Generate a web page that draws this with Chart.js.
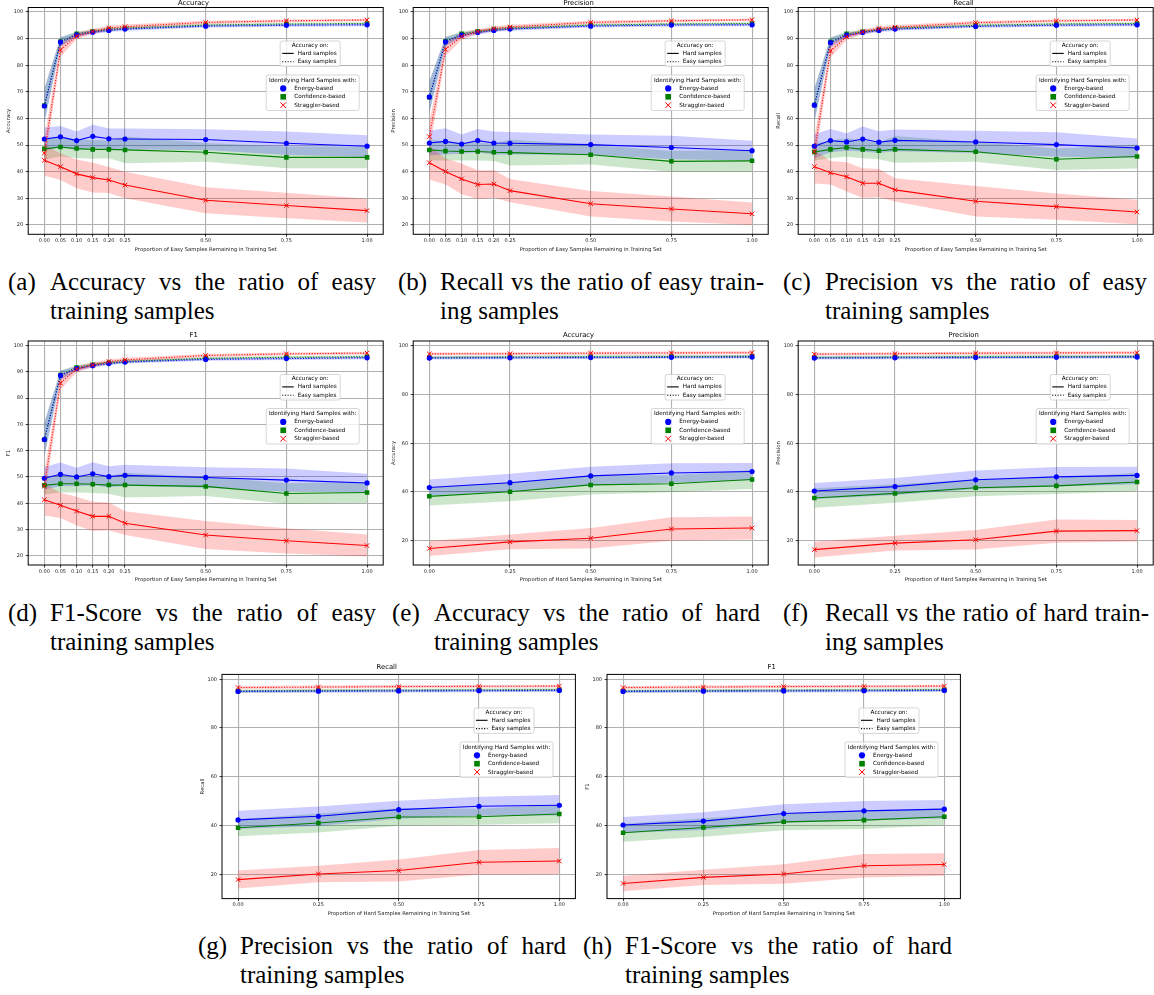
<!DOCTYPE html>
<html>
<head>
<meta charset="utf-8">
<title>Hard / easy sample ratio</title>
<script src="https://cdn.jsdelivr.net/npm/chart.js@4.4.1/dist/chart.umd.min.js"></script>
<style>
  html, body { margin: 0; padding: 0; background: #fff; }
  #fig { position: relative; width: 1154px; height: 995px; overflow: hidden; }
  #fig canvas { position: absolute; }
  .cap { position: absolute; display: flex; font-family: "Liberation Serif", "Times New Roman", serif;
         font-size: 25px; line-height: 29px; color: #000; }
  .cap .lab { flex: none; width: 42px; }
  .cap .body { flex: 1; min-width: 0; }
  .cap .l1 { text-align: justify; text-align-last: justify; }
</style>
</head>
<body>
<div id="fig"></div>
<script>
// share of samples kept, for the two sweeps
const easyX = [0, 0.05, 0.10, 0.15, 0.20, 0.25, 0.50, 0.75, 1.00];
const hardX = [0, 0.25, 0.50, 0.75, 1.00];
const easyYTicks = [20, 30, 40, 50, 60, 70, 80, 90, 100];
const hardYTicks = [20, 40, 60, 80, 100];

// (a) Accuracy, easy sweep
const A_hard_energy = [52.3, 53.1, 51.7, 53.3, 52.4, 52.3, 52.1, 50.7, 49.6];
const A_hard_energy_sd = [4.3, 4.1, 3.4, 4.4, 3.8, 3.9, 3.9, 4.4, 4.1];
const A_hard_conf = [48.6, 49.3, 48.7, 48.4, 48.4, 48.2, 47.3, 45.4, 45.4];
const A_hard_conf_sd = [4.0, 3.6, 3.5, 3.5, 3.3, 5.0, 3.5, 4.1, 4.1];
const A_hard_strag = [44.3, 41.9, 39.2, 37.8, 36.9, 35.0, 29.3, 27.3, 25.4];
const A_hard_strag_sd = [5.8, 5.0, 5.4, 5.6, 4.9, 5.0, 4.9, 4.8, 4.5];
const A_easy_energy = [64.7, 88.7, 91.4, 92.4, 93.1, 93.6, 94.7, 95.0, 95.2];
const A_easy_energy_sd = [6.5, 1.8, 0.9, 0.7, 0.6, 0.6, 0.5, 0.5, 0.5];
const A_easy_conf = [64.9, 88.9, 91.8, 92.7, 93.4, 93.9, 95.1, 95.5, 95.7];
const A_easy_conf_sd = [6.3, 1.7, 0.9, 0.7, 0.6, 0.6, 0.5, 0.5, 0.5];
const A_easy_strag = [47.0, 85.7, 91.0, 92.7, 94.0, 94.5, 96.1, 96.7, 97.0];
const A_easy_strag_sd = [5.5, 2.5, 1.2, 0.9, 0.8, 0.8, 0.6, 0.5, 0.5];

// (b) Precision, easy sweep
const B_hard_energy = [50.8, 51.4, 50.4, 51.7, 50.8, 50.7, 50.2, 49.1, 47.9];
const B_hard_energy_sd = [4.6, 4.9, 3.6, 4.4, 4.3, 4.2, 3.8, 4.4, 3.7];
const B_hard_conf = [48.2, 47.8, 47.6, 47.6, 47.3, 47.2, 46.4, 43.9, 44.1];
const B_hard_conf_sd = [4.0, 3.6, 3.4, 3.4, 3.3, 4.9, 3.7, 3.9, 4.1];
const B_hard_strag = [43.4, 40.1, 37.3, 35.2, 35.4, 32.9, 28.0, 26.0, 24.2];
const B_hard_strag_sd = [6.4, 4.9, 5.8, 5.4, 5.2, 4.4, 4.8, 4.7, 4.2];
const B_easy_energy = [68.1, 88.8, 91.3, 92.3, 93.1, 93.6, 94.7, 95.1, 95.2];
const B_easy_energy_sd = [6.0, 1.8, 0.9, 0.7, 0.6, 0.6, 0.5, 0.5, 0.5];
const B_easy_conf = [68.0, 89.0, 91.8, 92.7, 93.4, 93.9, 95.1, 95.5, 95.7];
const B_easy_conf_sd = [5.8, 1.7, 0.9, 0.7, 0.6, 0.6, 0.5, 0.5, 0.5];
const B_easy_strag = [53.2, 86.0, 90.8, 92.7, 93.8, 94.4, 96.1, 96.7, 97.1];
const B_easy_strag_sd = [5.5, 2.5, 1.2, 0.9, 0.8, 0.8, 0.6, 0.5, 0.5];

// (c) Recall, easy sweep
const C_hard_energy = [49.6, 51.7, 51.2, 52.3, 51.1, 51.8, 51.2, 50.2, 48.9];
const C_hard_energy_sd = [4.5, 4.4, 3.3, 4.7, 4.1, 4.1, 4.2, 4.6, 3.6];
const C_hard_conf = [47.4, 48.4, 49.1, 48.4, 47.9, 48.4, 47.5, 44.7, 45.7];
const C_hard_conf_sd = [3.3, 3.2, 3.5, 3.3, 3.2, 5.0, 3.7, 4.0, 4.5];
const C_hard_strag = [41.9, 39.6, 38.1, 35.7, 35.7, 33.2, 28.9, 26.9, 24.9];
const C_hard_strag_sd = [6.3, 4.4, 5.5, 5.6, 5.3, 4.4, 5.7, 4.9, 4.6];
const C_easy_energy = [65.0, 88.5, 91.3, 92.3, 93.1, 93.6, 94.6, 95.0, 95.2];
const C_easy_energy_sd = [6.4, 1.8, 0.9, 0.7, 0.6, 0.6, 0.5, 0.5, 0.5];
const C_easy_conf = [65.1, 88.8, 91.8, 92.6, 93.3, 93.9, 95.0, 95.5, 95.7];
const C_easy_conf_sd = [6.2, 1.7, 0.9, 0.7, 0.6, 0.6, 0.5, 0.5, 0.5];
const C_easy_strag = [47.5, 85.4, 90.7, 92.6, 93.8, 94.3, 96.0, 96.7, 97.0];
const C_easy_strag_sd = [5.5, 2.5, 1.2, 0.9, 0.8, 0.8, 0.6, 0.5, 0.5];

// (d) F1, easy sweep
const D_hard_energy = [49.5, 51.0, 50.0, 51.2, 50.1, 50.6, 49.8, 48.8, 47.7];
const D_hard_energy_sd = [4.3, 4.5, 3.5, 4.4, 4.0, 4.0, 3.9, 4.4, 3.5];
const D_hard_conf = [46.8, 47.4, 47.4, 47.2, 46.9, 46.9, 46.4, 43.7, 44.1];
const D_hard_conf_sd = [3.5, 3.3, 3.3, 3.3, 3.3, 4.7, 3.7, 3.9, 4.0];
const D_hard_strag = [41.3, 39.2, 37.0, 35.0, 35.0, 32.4, 27.9, 25.7, 23.9];
const D_hard_strag_sd = [6.0, 4.8, 5.5, 5.6, 5.3, 4.5, 5.3, 4.8, 4.2];
const D_easy_energy = [64.2, 88.6, 91.2, 92.3, 93.1, 93.7, 94.7, 95.0, 95.3];
const D_easy_energy_sd = [6.5, 1.8, 0.9, 0.7, 0.6, 0.6, 0.5, 0.5, 0.5];
const D_easy_conf = [64.2, 88.8, 91.6, 92.7, 93.4, 93.9, 95.1, 95.5, 95.7];
const D_easy_conf_sd = [6.3, 1.7, 0.9, 0.7, 0.6, 0.6, 0.5, 0.5, 0.5];
const D_easy_strag = [46.5, 85.7, 91.0, 92.6, 93.9, 94.5, 96.2, 96.8, 97.1];
const D_easy_strag_sd = [5.5, 2.5, 1.2, 0.9, 0.8, 0.8, 0.6, 0.5, 0.5];

// (e) Accuracy, hard sweep
const E_hard_energy = [41.8, 43.8, 46.6, 47.8, 48.4];
const E_hard_energy_sd = [3.3, 3.7, 3.8, 4.0, 3.5];
const E_hard_conf = [38.2, 40.1, 42.9, 43.4, 45.1];
const E_hard_conf_sd = [3.8, 3.9, 3.9, 3.5, 3.9];
const E_hard_strag = [16.8, 19.5, 21.0, 24.8, 25.2];
const E_hard_strag_sd = [3.1, 3.0, 4.2, 4.8, 4.7];
const E_easy_energy = [95.0, 95.1, 95.2, 95.3, 95.4];
const E_easy_energy_sd = [0.6, 0.6, 0.6, 0.6, 0.6];
const E_easy_conf = [95.2, 95.4, 95.5, 95.6, 95.7];
const E_easy_conf_sd = [0.6, 0.6, 0.6, 0.6, 0.6];
const E_easy_strag = [96.7, 96.8, 97.0, 97.1, 97.2];
const E_easy_strag_sd = [0.6, 0.6, 0.6, 0.6, 0.6];

// (f) Precision, hard sweep
const F_hard_energy = [40.4, 42.2, 45.0, 46.2, 46.8];
const F_hard_energy_sd = [3.3, 3.5, 3.8, 4.0, 3.6];
const F_hard_conf = [37.5, 39.4, 41.7, 42.5, 44.1];
const F_hard_conf_sd = [4.0, 3.8, 3.5, 3.3, 3.8];
const F_hard_strag = [16.3, 19.0, 20.4, 23.9, 24.1];
const F_hard_strag_sd = [3.2, 3.0, 4.0, 4.8, 4.4];
const F_easy_energy = [95.0, 95.1, 95.2, 95.3, 95.4];
const F_easy_energy_sd = [0.6, 0.6, 0.6, 0.6, 0.6];
const F_easy_conf = [95.2, 95.4, 95.5, 95.6, 95.7];
const F_easy_conf_sd = [0.6, 0.6, 0.6, 0.6, 0.6];
const F_easy_strag = [96.6, 96.8, 97.0, 97.1, 97.2];
const F_easy_strag_sd = [0.6, 0.6, 0.6, 0.6, 0.6];

// (g) Recall, hard sweep
const G_hard_energy = [42.3, 43.8, 46.5, 47.9, 48.3];
const G_hard_energy_sd = [3.7, 4.0, 3.7, 3.9, 4.2];
const G_hard_conf = [39.1, 41.0, 43.5, 43.6, 44.7];
const G_hard_conf_sd = [3.5, 3.9, 3.6, 3.3, 3.8];
const G_hard_strag = [17.8, 20.1, 21.5, 24.9, 25.4];
const G_hard_strag_sd = [3.7, 3.4, 4.5, 5.0, 5.4];
const G_easy_energy = [95.0, 95.1, 95.2, 95.3, 95.4];
const G_easy_energy_sd = [0.6, 0.6, 0.6, 0.6, 0.6];
const G_easy_conf = [95.2, 95.4, 95.5, 95.6, 95.7];
const G_easy_conf_sd = [0.6, 0.6, 0.6, 0.6, 0.6];
const G_easy_strag = [96.6, 96.8, 97.0, 97.1, 97.2];
const G_easy_strag_sd = [0.6, 0.6, 0.6, 0.6, 0.6];

// (h) F1, hard sweep
const H_hard_energy = [40.2, 41.8, 44.9, 46.0, 46.7];
const H_hard_energy_sd = [3.3, 3.6, 3.8, 4.0, 3.8];
const H_hard_conf = [37.0, 39.2, 41.5, 42.2, 43.6];
const H_hard_conf_sd = [3.7, 3.8, 3.5, 3.6, 3.5];
const H_hard_strag = [16.2, 18.7, 20.1, 23.5, 24.0];
const H_hard_strag_sd = [3.2, 3.1, 4.0, 4.8, 4.6];
const H_easy_energy = [95.0, 95.1, 95.2, 95.3, 95.4];
const H_easy_energy_sd = [0.6, 0.6, 0.6, 0.6, 0.6];
const H_easy_conf = [95.2, 95.4, 95.5, 95.6, 95.7];
const H_easy_conf_sd = [0.6, 0.6, 0.6, 0.6, 0.6];
const H_easy_strag = [96.6, 96.8, 97.0, 97.1, 97.2];
const H_easy_strag_sd = [0.6, 0.6, 0.6, 0.6, 0.6];

const splitLabels = ['Hard samples', 'Easy samples'];
const methodLabels = ['Energy-based', 'Confidence-based', 'Straggler-based'];
const xTitles = {
  easy: 'Proportion of Easy Samples Remaining in Training Set',
  hard: 'Proportion of Hard Samples Remaining in Training Set',
};

const captionLabels = ['(a)', '(b)', '(c)', '(d)', '(e)', '(f)', '(g)', '(h)'];
const captionLine1 = [
  'Accuracy vs the ratio of easy', 'Recall vs the ratio of easy train-', 'Precision vs the ratio of easy',
  'F1-Score vs the ratio of easy', 'Accuracy vs the ratio of hard', 'Recall vs the ratio of hard train-',
  'Precision vs the ratio of hard', 'F1-Score vs the ratio of hard',
];
const captionLine2 = ['training samples', 'ing samples', 'training samples', 'training samples',
  'training samples', 'ing samples', 'training samples', 'training samples'];

// panel definitions: title, sweep, series as [method, split, mean, sd]
// order = draw order, first one on top
function seriesOf(es, esd, hs, hsd, ee, eesd, he, hesd, ec, ecsd, hc, hcsd) {
  return [
    ['straggler', 'easy', es, esd], ['straggler', 'hard', hs, hsd],
    ['energy', 'easy', ee, eesd], ['energy', 'hard', he, hesd],
    ['confidence', 'easy', ec, ecsd], ['confidence', 'hard', hc, hcsd],
  ];
}
const panels = [
  { title: 'Accuracy', sweep: 'easy', series: seriesOf(A_easy_strag, A_easy_strag_sd, A_hard_strag, A_hard_strag_sd, A_easy_energy, A_easy_energy_sd, A_hard_energy, A_hard_energy_sd, A_easy_conf, A_easy_conf_sd, A_hard_conf, A_hard_conf_sd) },
  { title: 'Precision', sweep: 'easy', series: seriesOf(B_easy_strag, B_easy_strag_sd, B_hard_strag, B_hard_strag_sd, B_easy_energy, B_easy_energy_sd, B_hard_energy, B_hard_energy_sd, B_easy_conf, B_easy_conf_sd, B_hard_conf, B_hard_conf_sd) },
  { title: 'Recall', sweep: 'easy', series: seriesOf(C_easy_strag, C_easy_strag_sd, C_hard_strag, C_hard_strag_sd, C_easy_energy, C_easy_energy_sd, C_hard_energy, C_hard_energy_sd, C_easy_conf, C_easy_conf_sd, C_hard_conf, C_hard_conf_sd) },
  { title: 'F1', sweep: 'easy', series: seriesOf(D_easy_strag, D_easy_strag_sd, D_hard_strag, D_hard_strag_sd, D_easy_energy, D_easy_energy_sd, D_hard_energy, D_hard_energy_sd, D_easy_conf, D_easy_conf_sd, D_hard_conf, D_hard_conf_sd) },
  { title: 'Accuracy', sweep: 'hard', series: seriesOf(E_easy_strag, E_easy_strag_sd, E_hard_strag, E_hard_strag_sd, E_easy_energy, E_easy_energy_sd, E_hard_energy, E_hard_energy_sd, E_easy_conf, E_easy_conf_sd, E_hard_conf, E_hard_conf_sd) },
  { title: 'Precision', sweep: 'hard', series: seriesOf(F_easy_strag, F_easy_strag_sd, F_hard_strag, F_hard_strag_sd, F_easy_energy, F_easy_energy_sd, F_hard_energy, F_hard_energy_sd, F_easy_conf, F_easy_conf_sd, F_hard_conf, F_hard_conf_sd) },
  { title: 'Recall', sweep: 'hard', series: seriesOf(G_easy_strag, G_easy_strag_sd, G_hard_strag, G_hard_strag_sd, G_easy_energy, G_easy_energy_sd, G_hard_energy, G_hard_energy_sd, G_easy_conf, G_easy_conf_sd, G_hard_conf, G_hard_conf_sd) },
  { title: 'F1', sweep: 'hard', series: seriesOf(H_easy_strag, H_easy_strag_sd, H_hard_strag, H_hard_strag_sd, H_easy_energy, H_easy_energy_sd, H_hard_energy, H_hard_energy_sd, H_easy_conf, H_easy_conf_sd, H_hard_conf, H_hard_conf_sd) },
];

// layout: plot area on the page [left, top, width, height, gap under title]
const AREAS = [
  [28.2, 7.5, 355, 226.8, 0.2], [413.2, 7.5, 355, 226.8, 0.2], [798.2, 7.5, 355, 226.8, 0.2],
  [28.2, 341, 355, 224, 0.9], [413.2, 341, 355, 224, 0.9], [798.2, 341, 355, 224, 0.9],
  [222, 674.4, 353.4, 224.2, 3], [607, 674.4, 353.4, 224.2, 3],
];
// caption blocks [left, top, width]
const CAPS = [
  [8, 266.5, 368], [398, 266.5, 366], [783, 266.5, 364],
  [8, 597.5, 368], [392, 597.5, 368], [783, 597.5, 366],
  [198, 930.5, 368], [583, 930.5, 369],
];

const FONT = 'DejaVu Sans';
const TITLE_SIZE = 6.8, TICK_SIZE = 5, LABEL_SIZE = 5.3, LEG_SIZE = 5.7;
const COLOR = { energy: '0,0,255', confidence: '0,128,0', straggler: '255,0,0' };
const MARKER = { energy: 'circle', confidence: 'rect', straggler: 'crossRot' };
const RADIUS = { energy: 2.6, confidence: 3.2, straggler: 3.2 };

function pts(xs, ys) { return xs.map((x, i) => ({ x, y: ys[i] })); }

function lineDataset(xs, ys, method, split) {
  const c = `rgb(${COLOR[method]})`;
  return {
    data: pts(xs, ys), borderColor: c, backgroundColor: c, borderWidth: 1.1,
    borderDash: split === 'easy' ? [1.1, 1.6] : [], tension: 0, fill: false,
    pointStyle: MARKER[method], pointRadius: RADIUS[method],
    pointBorderWidth: method === 'straggler' ? 1 : 0,
    pointBorderColor: c, pointBackgroundColor: c,
  };
}

function bandDatasets(xs, ys, sd, method) {
  return [
    { data: pts(xs, ys.map((v, i) => v + sd[i])), borderWidth: 0, borderColor: 'transparent',
      pointRadius: 0, fill: '+1', backgroundColor: `rgba(${COLOR[method]},0.2)` },
    { data: pts(xs, ys.map((v, i) => v - sd[i])), borderWidth: 0, borderColor: 'transparent',
      pointRadius: 0, fill: false },
  ];
}

function drawMarker(ctx, method, x, y) {
  const c = `rgb(${COLOR[method]})`;
  ctx.fillStyle = c; ctx.strokeStyle = c;
  if (method === 'energy') {
    ctx.beginPath(); ctx.arc(x, y, 3.1, 0, Math.PI * 2); ctx.fill();
  } else if (method === 'confidence') {
    ctx.fillRect(x - 2.8, y - 2.8, 5.6, 5.6);
  } else {
    ctx.lineWidth = 1;
    ctx.beginPath();
    ctx.moveTo(x - 2.8, y - 2.8); ctx.lineTo(x + 2.8, y + 2.8);
    ctx.moveTo(x - 2.8, y + 2.8); ctx.lineTo(x + 2.8, y - 2.8);
    ctx.stroke();
  }
}

function legendBox(ctx, x, y, w, h) {
  ctx.beginPath();
  ctx.roundRect(x, y, w, h, 2);
  ctx.fillStyle = 'rgba(255,255,255,0.8)';
  ctx.fill();
  ctx.strokeStyle = '#cccccc'; ctx.lineWidth = 0.8; ctx.setLineDash([]);
  ctx.stroke();
}

// axes frame + the two in-plot legends
const framePlugin = {
  id: 'frameAndLegends',
  afterDraw(chart) {
    const { ctx, chartArea: a } = chart;
    ctx.save();
    ctx.strokeStyle = '#000'; ctx.lineWidth = 1;
    ctx.strokeRect(a.left, a.top, a.right - a.left, a.bottom - a.top);

    ctx.font = `${LEG_SIZE}px "${FONT}"`;
    ctx.textBaseline = 'middle';

    // "Accuracy on:" box
    let bx = a.left + 252, by = a.top + 33.5;
    legendBox(ctx, bx, by, 60, 25.5);
    ctx.fillStyle = '#000'; ctx.textAlign = 'center';
    ctx.fillText('Accuracy on:', bx + 30, by + 4.3);
    ctx.textAlign = 'left';
    splitLabels.forEach((lab, i) => {
      const ry = by + 12.4 + i * 8.3;
      ctx.strokeStyle = '#000'; ctx.lineWidth = 1.1;
      ctx.setLineDash(i === 1 ? [1.1, 1.6] : []);
      ctx.beginPath(); ctx.moveTo(bx + 2, ry); ctx.lineTo(bx + 13.5, ry); ctx.stroke();
      ctx.setLineDash([]);
      ctx.fillStyle = '#000';
      ctx.fillText(lab, bx + 17.5, ry);
    });

    // "Identifying Hard Samples with:" box
    bx = a.left + 238; by = a.top + 67.5;
    legendBox(ctx, bx, by, 93, 35.5);
    ctx.fillStyle = '#000'; ctx.textAlign = 'center';
    ctx.fillText('Identifying Hard Samples with:', bx + 46.5, by + 5.2);
    ctx.textAlign = 'left';
    ['energy', 'confidence', 'straggler'].forEach((m, i) => {
      const ry = by + 13.4 + i * 8.4;
      drawMarker(ctx, m, bx + 17, ry);
      ctx.fillStyle = '#000';
      ctx.fillText(methodLabels[i], bx + 28, ry);
    });
    ctx.restore();
  },
};

const fig = document.getElementById('fig');

panels.forEach((p, k) => {
  const [al, at, aw, ah, gap] = AREAS[k];
  const titleLine = TITLE_SIZE * 1.2;
  const cl = Math.floor(al - 23.5);
  const ct = Math.floor(at - titleLine - gap);
  const cw = Math.ceil(al + aw + 2) - cl;
  const ch = Math.ceil(at + ah + 18) - ct;
  const yw = al - cl;
  const titleH = at - ct;
  const xh = ct + ch - (at + ah);
  const padRight = cl + cw - (al + aw);

  const canvas = document.createElement('canvas');
  canvas.width = cw; canvas.height = ch;
  canvas.style.left = cl + 'px'; canvas.style.top = ct + 'px';
  canvas.style.width = cw + 'px'; canvas.style.height = ch + 'px';
  fig.appendChild(canvas);

  const xs = p.sweep === 'easy' ? easyX : hardX;
  const yTicks = p.sweep === 'easy' ? easyYTicks : hardYTicks;
  const lines = [], bands = [];
  p.series.forEach(([method, split, mean, sd]) => {
    lines.push(lineDataset(xs, mean, method, split));
    bands.push(...bandDatasets(xs, mean, sd, method));
  });

  const grid = { color: '#b0b0b0', lineWidth: 1.1, tickLength: 2.5, tickColor: '#000', tickWidth: 0.8 };
  const tickFont = { family: FONT, size: TICK_SIZE };
  const labelFont = { family: FONT, size: LABEL_SIZE };

  new Chart(canvas, {
    type: 'line',
    data: { datasets: [...lines, ...bands] },
    plugins: [framePlugin],
    options: {
      responsive: false,
      animation: false,
      events: [],
      layout: { padding: { left: 0, top: 0, bottom: 0, right: padRight }, autoPadding: false },
      plugins: {
        legend: { display: false },
        tooltip: { enabled: false },
        filler: { drawTime: 'beforeDatasetsDraw' },
        title: {
          display: true, text: p.title, color: '#000',
          font: { family: FONT, size: TITLE_SIZE, weight: 'normal' },
          padding: { top: 0, bottom: titleH - titleLine },
        },
      },
      scales: {
        x: {
          type: 'linear', min: -0.05, max: 1.05,
          afterBuildTicks: s => { s.ticks = xs.map(v => ({ value: v })); },
          afterFit: s => { s.height = xh; },
          ticks: { callback: v => Number(v).toFixed(2), font: tickFont, color: '#222',
                   padding: 1, maxRotation: 0, minRotation: 0, autoSkip: false },
          grid, border: { display: false },
          title: { display: true, text: xTitles[p.sweep], font: labelFont, color: '#222', padding: 0 },
        },
        y: {
          type: 'linear',
          min: p.sweep === 'easy' ? 16.5 : 10, max: p.sweep === 'easy' ? 101.7 : 102,
          afterBuildTicks: s => { s.ticks = yTicks.map(v => ({ value: v })); },
          afterFit: s => { s.width = yw; },
          ticks: { font: tickFont, color: '#222', padding: 2.5 },
          grid, border: { display: false },
          title: { display: true, text: p.title, font: labelFont, color: '#222', padding: { top: 1.5, bottom: 0 } },
        },
      },
    },
  });
});

// captions under each panel
CAPS.forEach(([l, t, w], i) => {
  const d = document.createElement('div');
  d.className = 'cap';
  d.style.left = l + 'px'; d.style.top = t + 'px'; d.style.width = w + 'px';
  const lab = document.createElement('span');
  lab.className = 'lab'; lab.textContent = captionLabels[i];
  const body = document.createElement('div');
  body.className = 'body';
  const l1 = document.createElement('div');
  l1.className = 'l1'; l1.textContent = captionLine1[i];
  const l2 = document.createElement('div');
  l2.textContent = captionLine2[i];
  body.append(l1, l2);
  d.append(lab, body);
  fig.appendChild(d);
});
</script>
</body>
</html>
